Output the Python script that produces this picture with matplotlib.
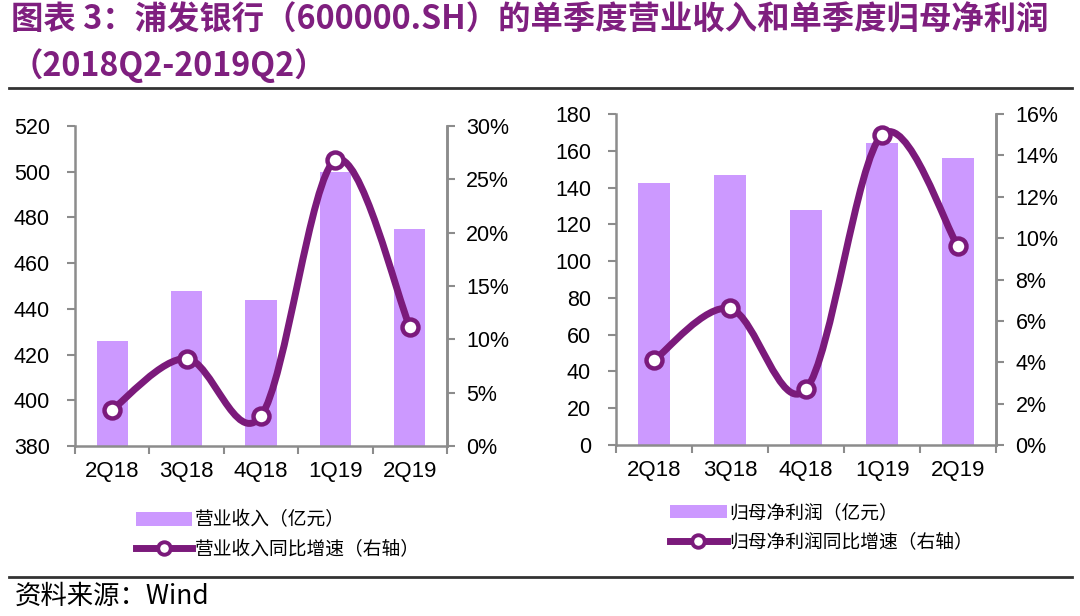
import numpy as np
import matplotlib
matplotlib.use("Agg")
import matplotlib.pyplot as plt
from matplotlib.path import Path
from matplotlib.patches import PathPatch, Patch
from matplotlib.lines import Line2D
from matplotlib.ticker import FuncFormatter

plt.rcParams['font.family'] = ['Liberation Sans', 'Noto Sans CJK SC', 'DejaVu Sans']

quarters = ["2Q18", "3Q18", "4Q18", "1Q19", "2Q19"]
revenue = [426, 448, 444, 500, 475]            # 亿元
revenue_yoy = [3.4, 8.2, 2.8, 26.8, 11.2]      # %
profit = [142.5, 147, 128, 164, 156]           # 亿元
profit_yoy = [4.1, 6.6, 2.7, 15.0, 9.6]        # %

BAR = "#CC99FF"
LINE = "#7B1A7B"
SPINE = "#8C8C8C"
TITLE = "#7F1F7F"


def smooth_path(x, y):
    # excel-like smoothed line: cubic bezier, tension 1/6
    x = np.asarray(x, float)
    y = np.asarray(y, float)
    n = len(x)
    verts = [(x[0], y[0])]
    codes = [Path.MOVETO]
    for i in range(n - 1):
        i0 = max(i - 1, 0)
        i3 = min(i + 2, n - 1)
        c1 = (x[i] + (x[i + 1] - x[i0]) / 6, y[i] + (y[i + 1] - y[i0]) / 6)
        c2 = (x[i + 1] - (x[i3] - x[i]) / 6, y[i + 1] - (y[i3] - y[i]) / 6)
        verts += [c1, c2, (x[i + 1], y[i + 1])]
        codes += [Path.CURVE4] * 3
    return Path(verts, codes)


def draw_panel(rect, bars, pct, ylim, yticks, pct_lim, pct_ticks):
    ax = fig.add_axes(rect)
    x = np.arange(len(quarters))
    ax.bar(x, bars, width=0.42, color=BAR, zorder=2)
    ax.set_xlim(-0.5, len(quarters) - 0.5)
    ax.set_ylim(*ylim)
    ax.set_yticks(yticks)
    ax.set_xticks(np.arange(len(quarters) + 1) - 0.5)
    ax.set_xticks(x, minor=True)
    ax.set_xticklabels([])
    ax.set_xticklabels(quarters, minor=True)
    ax.tick_params(axis='x', which='minor', length=0, labelsize=16, pad=11)
    ax.tick_params(axis='x', which='major', length=6, width=1.5, color=SPINE, direction='out')
    ax.tick_params(axis='y', length=6, width=1.5, color=SPINE, labelsize=15.5, pad=12)
    ax.spines["top"].set_visible(False)
    for s in ["left", "bottom", "right"]:
        ax.spines[s].set_color(SPINE)
        ax.spines[s].set_linewidth(1.8)

    ax2 = ax.twinx()
    ax2.set_ylim(*pct_lim)
    ax2.set_yticks(pct_ticks)
    ax2.yaxis.set_major_formatter(FuncFormatter(lambda v, p: "%d%%" % round(v)))
    ax2.tick_params(axis='y', length=6, width=1.5, color=SPINE, labelsize=15.5, pad=8)
    ax2.spines["top"].set_visible(False)
    ax2.spines["left"].set_visible(False)
    ax2.spines["bottom"].set_visible(False)
    ax2.spines["right"].set_color(SPINE)
    ax2.spines["right"].set_linewidth(1.8)
    ax2.add_patch(PathPatch(smooth_path(x, pct), facecolor="none", edgecolor=LINE,
                            lw=5, capstyle="round", joinstyle="round", zorder=3))
    ax2.plot(x, pct, linestyle="none", marker="o", markersize=11.5, markerfacecolor="white",
             markeredgecolor=LINE, markeredgewidth=3.2, zorder=4)
    return ax, ax2


fig = plt.figure(figsize=(10.8, 6.16), dpi=100)

cjk = ["Noto Sans CJK SC", "DejaVu Sans"]
fig.text(0.010, 0.967, "图表 3：浦发银行（600000.SH）的单季度营业收入和单季度归母净利润",
         fontsize=23.3, fontweight="bold", color=TITLE, va="center", ha="left", family=cjk)
fig.text(0.010, 0.893, "（2018Q2-2019Q2）", fontsize=23.3, fontweight="bold", color=TITLE,
         va="center", ha="left", family=cjk)
fig.add_artist(Line2D([0.008, 0.993], [0.857, 0.857], color="#333333", lw=2))
fig.add_artist(Line2D([0.008, 0.993], [0.063, 0.063], color="#333333", lw=2))
fig.text(0.014, 0.032, "资料来源：Wind", fontsize=19, va="center", ha="left", family=cjk)

draw_panel([0.0694, 0.276, 0.3444, 0.5195], revenue, revenue_yoy,
           (380, 520), np.arange(380, 521, 20), (0, 30), np.arange(0, 31, 5))
draw_panel([0.5704, 0.2776, 0.3519, 0.5373], profit, profit_yoy,
           (0, 180), np.arange(0, 181, 20), (0, 16), np.arange(0, 17, 2))

leg_font = {"family": cjk, "size": 13.5}


def add_legend(anchor, names):
    handles = [Patch(facecolor=BAR, edgecolor="none"),
               Line2D([], [], color=LINE, lw=5, marker="o", markersize=9,
                      markerfacecolor="white", markeredgecolor=LINE, markeredgewidth=2.8)]
    fig.legend(handles, names, loc="upper left", bbox_to_anchor=anchor, frameon=False,
               prop=leg_font, handlelength=3.0, handletextpad=0.15, labelspacing=0.45,
               borderpad=0)


add_legend((0.117, 0.188), ["营业收入（亿元）", "营业收入同比增速（右轴）"])
add_legend((0.612, 0.200), ["归母净利润（亿元）", "归母净利润同比增速（右轴）"])

fig.savefig("out.png", dpi=100)
